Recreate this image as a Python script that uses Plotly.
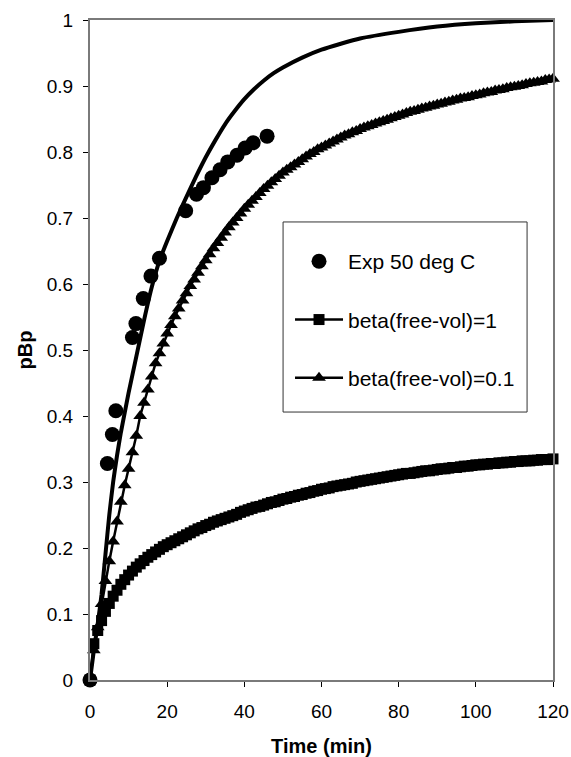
import plotly.graph_objects as go

# Experimental conversion at 50 deg C
exp_time = [0, 4.5, 5.8, 6.7, 11.0, 11.9, 13.8, 15.8, 18.0, 24.8, 27.6, 29.4,
            31.6, 33.7, 35.7, 38.1, 40.2, 42.3, 45.9]
exp_pbp = [0, 0.328, 0.372, 0.408, 0.519, 0.540, 0.578, 0.612, 0.639, 0.711,
           0.736, 0.746, 0.761, 0.773, 0.785, 0.795, 0.806, 0.814, 0.824]

# Model curves sampled every minute, 0..120 min
model_time = list(range(0, 121))

beta_1 = [
    0.000, 0.055, 0.075, 0.090, 0.104, 0.116, 0.127, 0.136, 0.145, 0.152, 0.159,
    0.165, 0.171, 0.176, 0.181, 0.186, 0.190, 0.194, 0.198, 0.202, 0.205,
    0.208, 0.211, 0.214, 0.217, 0.220, 0.223, 0.226, 0.229, 0.231, 0.234,
    0.236, 0.239, 0.241, 0.243, 0.245, 0.247, 0.249, 0.251, 0.254, 0.256,
    0.258, 0.260, 0.262, 0.263, 0.265, 0.267, 0.269, 0.270, 0.272, 0.274,
    0.275, 0.277, 0.278, 0.280, 0.281, 0.283, 0.284, 0.286, 0.287, 0.289,
    0.290, 0.291, 0.293, 0.294, 0.295, 0.296, 0.297, 0.298, 0.300, 0.301,
    0.302, 0.303, 0.304, 0.305, 0.306, 0.307, 0.308, 0.309, 0.310, 0.311,
    0.312, 0.313, 0.313, 0.314, 0.315, 0.316, 0.317, 0.317, 0.318, 0.319,
    0.320, 0.320, 0.321, 0.322, 0.322, 0.323, 0.324, 0.324, 0.325, 0.326,
    0.326, 0.327, 0.327, 0.328, 0.328, 0.329, 0.329, 0.330, 0.330, 0.331,
    0.331, 0.332, 0.332, 0.332, 0.333, 0.333, 0.334, 0.334, 0.334, 0.335,
]

beta_01 = [
    0.000, 0.045, 0.080, 0.115, 0.150, 0.180, 0.210, 0.240, 0.270, 0.295, 0.320,
    0.345, 0.370, 0.400, 0.420, 0.440, 0.460, 0.480, 0.495, 0.510, 0.525,
    0.538, 0.551, 0.563, 0.575, 0.586, 0.597, 0.607, 0.617, 0.627, 0.636,
    0.645, 0.654, 0.662, 0.670, 0.678, 0.686, 0.693, 0.700, 0.707, 0.714,
    0.720, 0.726, 0.732, 0.738, 0.744, 0.749, 0.754, 0.759, 0.764, 0.769,
    0.773, 0.777, 0.781, 0.785, 0.789, 0.793, 0.797, 0.800, 0.804, 0.807,
    0.810, 0.813, 0.816, 0.819, 0.822, 0.825, 0.827, 0.830, 0.832, 0.835,
    0.837, 0.839, 0.841, 0.843, 0.845, 0.847, 0.849, 0.851, 0.853, 0.855,
    0.857, 0.859, 0.861, 0.862, 0.864, 0.866, 0.867, 0.869, 0.870, 0.872,
    0.873, 0.875, 0.876, 0.878, 0.879, 0.881, 0.882, 0.883, 0.885, 0.886,
    0.887, 0.889, 0.890, 0.891, 0.893, 0.894, 0.895, 0.897, 0.898, 0.899,
    0.900, 0.901, 0.903, 0.904, 0.905, 0.906, 0.907, 0.909, 0.910, 0.911,
]

# Fitted curve (no markers)
fit_time = [0, 1, 2, 3, 4, 5, 6, 7, 8, 9, 10, 12, 14, 16, 18, 20, 22.5, 25,
            27.5, 30, 32.5, 35, 37.5, 40, 42.5, 45, 47.5, 50, 55, 60, 65, 70,
            80, 90, 100, 110, 120]
fit_pbp = [0, 0.045, 0.085, 0.130, 0.190, 0.250, 0.300, 0.340, 0.375, 0.405,
           0.435, 0.490, 0.545, 0.595, 0.635, 0.665, 0.700, 0.732, 0.763, 0.792,
           0.818, 0.842, 0.862, 0.880, 0.895, 0.908, 0.919, 0.928, 0.943, 0.955,
           0.964, 0.972, 0.982, 0.990, 0.995, 0.998, 1.000]

x_ticks = [0, 20, 40, 60, 80, 100, 120]
y_ticks = [0, 0.1, 0.2, 0.3, 0.4, 0.5, 0.6, 0.7, 0.8, 0.9, 1]
y_tick_text = ["0", "0.1", "0.2", "0.3", "0.4", "0.5", "0.6", "0.7", "0.8", "0.9", "1"]

FONT = "Liberation Sans, Arial, sans-serif"

fig = go.Figure()

fig.add_trace(go.Scatter(
    x=fit_time, y=fit_pbp, mode="lines", showlegend=False,
    line=dict(color="black", width=4, shape="spline", smoothing=0.5),
    cliponaxis=False,
))

fig.add_trace(go.Scatter(
    x=exp_time, y=exp_pbp, mode="markers", name="Exp 50 deg C",
    legendgroup="a",
    marker=dict(symbol="circle", size=15, color="black"),
    cliponaxis=False,
))

fig.add_trace(go.Scatter(
    x=model_time, y=beta_1, mode="lines+markers", name="beta(free-vol)=1",
    legendgroup="b",
    line=dict(color="black", width=2.5),
    marker=dict(symbol="square", size=11, color="black"),
    cliponaxis=False,
))

fig.add_trace(go.Scatter(
    x=model_time, y=beta_01, mode="lines+markers", name="beta(free-vol)=0.1",
    legendgroup="c",
    line=dict(color="black", width=2.5),
    marker=dict(symbol="triangle-up", size=12, color="black"),
    cliponaxis=False,
))

axis_common = dict(
    showline=True, mirror=True, linecolor="#7a7a7a", linewidth=2,
    showgrid=False, zeroline=False, automargin=False,
    ticks="outside", ticklen=5, tickwidth=1, tickcolor="black",
    tickfont=dict(family=FONT, size=19, color="black"),
)

fig.update_xaxes(
    range=[0, 120], tickvals=x_ticks, ticklabelstandoff=8,
    title=dict(text="<b>Time (min)</b>", standoff=24,
               font=dict(family=FONT, size=20, color="black")),
    **axis_common,
)
fig.update_yaxes(
    range=[0, 1], tickvals=y_ticks, ticktext=y_tick_text, ticklabelstandoff=6,
    title=dict(text="<b>pBp</b>", standoff=9,
               font=dict(family=FONT, size=20, color="black")),
    **axis_common,
)

# Frame drawn around the legend entries
fig.add_shape(
    type="rect", xref="paper", yref="paper",
    x0=0.417, x1=0.944, y0=0.406, y1=0.694,
    line=dict(color="#333333", width=1), fillcolor="white", layer="below",
)

fig.update_layout(
    width=571, height=757,
    margin=dict(l=90, r=18, t=20, b=77),
    paper_bgcolor="white", plot_bgcolor="white",
    font=dict(family=FONT, color="black"),
    legend=dict(
        x=0.432, y=0.665, xanchor="left", yanchor="top",
        bgcolor="rgba(0,0,0,0)", borderwidth=0,
        font=dict(family=FONT, size=21, color="black"),
        tracegroupgap=28, itemwidth=48,
    ),
)

fig.write_html("out.html")
